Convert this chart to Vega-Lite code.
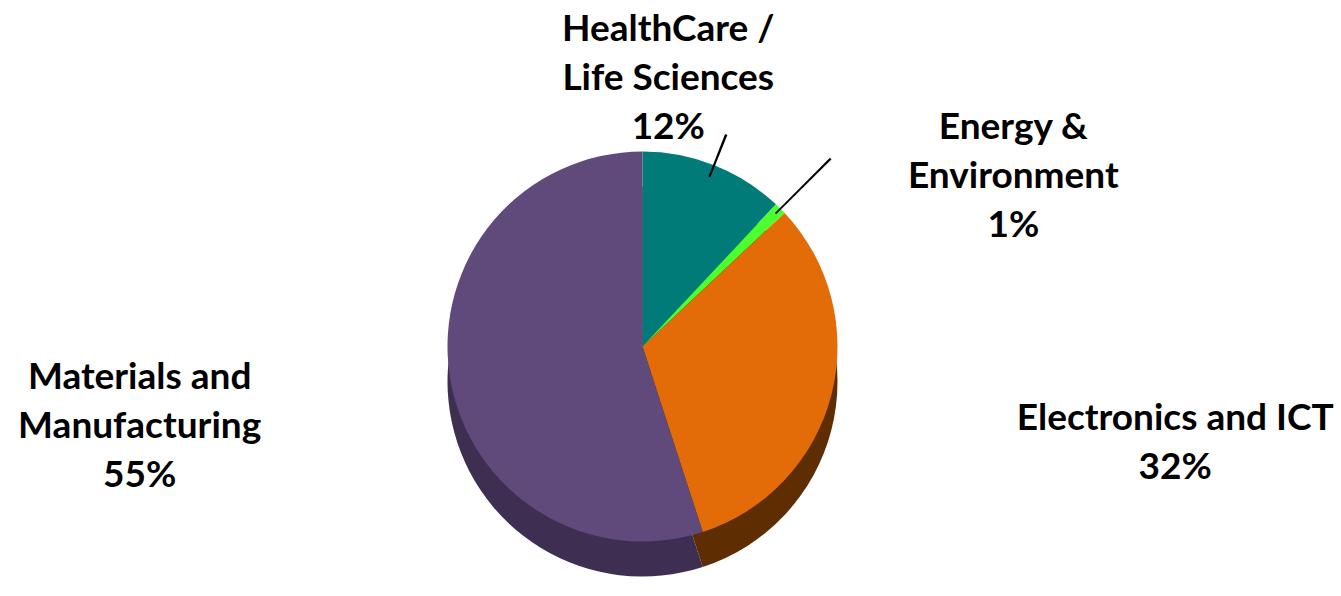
{
  "$schema": "https://vega.github.io/schema/vega-lite/v6.json",
  "width": 1285,
  "height": 499,
  "autosize": {"type": "none"},
  "padding": {"left": 0, "top": 97, "right": 56, "bottom": 0},
  "background": "white",
  "view": {"stroke": null},
  "data": {
    "values": [
      {"sector": "HealthCare / Life Sciences", "label": "HealthCare /\nLife Sciences\n12%", "pct": 12, "order": 1},
      {"sector": "Energy & Environment", "label": "Energy &\nEnvironment\n1%", "pct": 1, "order": 2},
      {"sector": "Electronics and ICT", "label": "Electronics and ICT\n32%", "pct": 32, "order": 3},
      {"sector": "Materials and Manufacturing", "label": "Materials and\nManufacturing\n55%", "pct": 55, "order": 4}
    ]
  },
  "layer": [
    {
      "mark": {"type": "arc", "radius": 195, "yOffset": 35},
      "encoding": {
        "theta": {"field": "pct", "type": "quantitative", "stack": true},
        "order": {"field": "order", "type": "quantitative"},
        "color": {
          "field": "sector", "type": "nominal", "legend": null,
          "scale": {
            "domain": ["HealthCare / Life Sciences", "Energy & Environment", "Electronics and ICT", "Materials and Manufacturing"],
            "range": ["#004a48", "#2a8f1c", "#5e2e02", "#3d2e52"]
          }
        }
      }
    },
    {
      "mark": {"type": "arc", "radius": 195},
      "encoding": {
        "theta": {"field": "pct", "type": "quantitative", "stack": true},
        "order": {"field": "order", "type": "quantitative"},
        "fill": {
          "field": "sector", "type": "nominal", "legend": null,
          "scale": {
            "domain": ["HealthCare / Life Sciences", "Energy & Environment", "Electronics and ICT", "Materials and Manufacturing"],
            "range": ["#007b78", "#4cff2e", "#e36c09", "#604a7b"]
          }
        }
      }
    },
    {
      "data": {"values": [{"leader": "HealthCare"}]},
      "mark": {"type": "arc", "color": "black"},
      "encoding": {
        "theta": {"value": 0.3705},
        "theta2": {"value": 0.3815},
        "radius": {"value": 228},
        "radius2": {"value": 182}
      }
    },
    {
      "data": {"values": [{"leader": "Energy"}]},
      "mark": {"type": "arc", "color": "black"},
      "encoding": {
        "theta": {"value": 0.7815},
        "theta2": {"value": 0.7905},
        "radius": {"value": 266},
        "radius2": {"value": 188}
      }
    },
    {
      "mark": {"type": "text", "radius": 290, "dx": -81, "dy": -47, "font": "Lato", "fontWeight": "bold", "fontSize": 37, "lineHeight": 49, "lineBreak": "\n", "align": "center", "baseline": "middle", "color": "black"},
      "encoding": {
        "theta": {"field": "pct", "type": "quantitative", "stack": true},
        "order": {"field": "order", "type": "quantitative"},
        "text": {"condition": {"test": "datum.order === 1", "field": "label"}, "value": ""}
      }
    },
    {
      "mark": {"type": "text", "radius": 400, "dx": 88, "dy": 64, "font": "Lato", "fontWeight": "bold", "fontSize": 37, "lineHeight": 49, "lineBreak": "\n", "align": "center", "baseline": "middle", "color": "black"},
      "encoding": {
        "theta": {"field": "pct", "type": "quantitative", "stack": true},
        "order": {"field": "order", "type": "quantitative"},
        "text": {"condition": {"test": "datum.order === 2", "field": "label"}, "value": ""}
      }
    },
    {
      "mark": {"type": "text", "radius": 550, "dx": 0, "dy": -64, "font": "Lato", "fontWeight": "bold", "fontSize": 37, "lineHeight": 49, "lineBreak": "\n", "align": "center", "baseline": "middle", "color": "black"},
      "encoding": {
        "theta": {"field": "pct", "type": "quantitative", "stack": true},
        "order": {"field": "order", "type": "quantitative"},
        "text": {"condition": {"test": "datum.order === 3", "field": "label"}, "value": ""}
      }
    },
    {
      "mark": {"type": "text", "radius": 500, "dx": -9, "dy": -47, "font": "Lato", "fontWeight": "bold", "fontSize": 37, "lineHeight": 49, "lineBreak": "\n", "align": "center", "baseline": "middle", "color": "black"},
      "encoding": {
        "theta": {"field": "pct", "type": "quantitative", "stack": true},
        "order": {"field": "order", "type": "quantitative"},
        "text": {"condition": {"test": "datum.order === 4", "field": "label"}, "value": ""}
      }
    }
  ],
  "resolve": {"scale": {"color": "independent", "fill": "independent"}}
}
